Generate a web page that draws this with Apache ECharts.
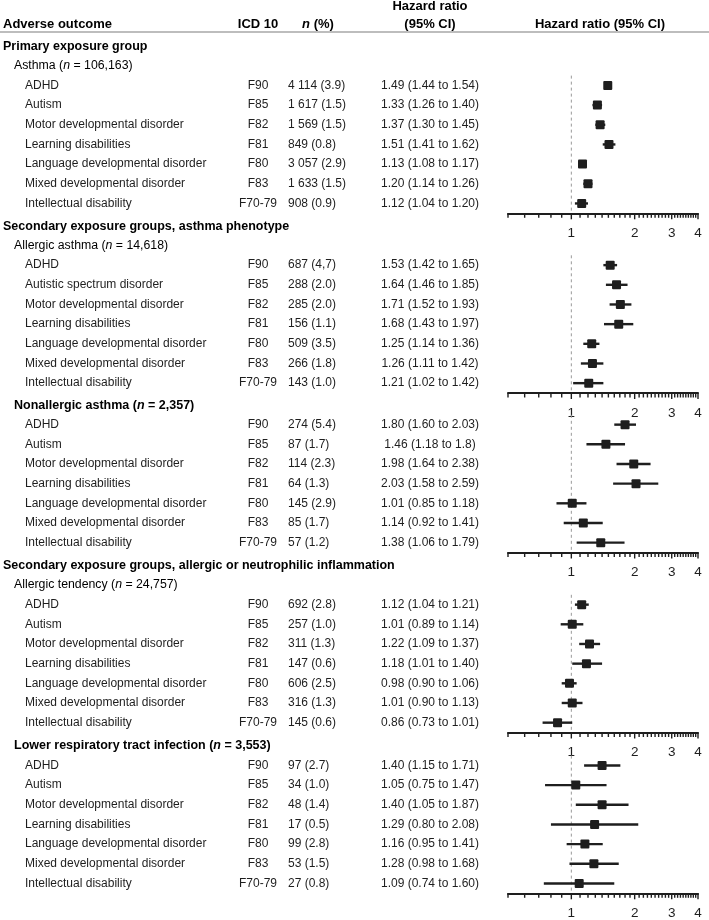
<!DOCTYPE html>
<html>
<head>
<meta charset="utf-8">
<script src="https://cdn.jsdelivr.net/npm/echarts@6/dist/echarts.min.js"></script>
<style>
  html, body { margin: 0; padding: 0; background: #fff; }
  #chart { width: 709px; height: 920px; }
</style>
</head>
<body>
<div id="chart"></div>
<script>
// ---- data ----
var icdCodes = ['F90', 'F85', 'F82', 'F81', 'F80', 'F83', 'F70-79'];

var names1 = ['ADHD', 'Autism', 'Motor developmental disorder', 'Learning disabilities',
  'Language developmental disorder', 'Mixed developmental disorder', 'Intellectual disability'];
var nPct1 = ['4 114 (3.9)', '1 617 (1.5)', '1 569 (1.5)', '849 (0.8)', '3 057 (2.9)', '1 633 (1.5)', '908 (0.9)'];
var hrText1 = ['1.49 (1.44 to 1.54)', '1.33 (1.26 to 1.40)', '1.37 (1.30 to 1.45)', '1.51 (1.41 to 1.62)',
  '1.13 (1.08 to 1.17)', '1.20 (1.14 to 1.26)', '1.12 (1.04 to 1.20)'];
var hr1 = [1.49, 1.33, 1.37, 1.51, 1.13, 1.20, 1.12];
var lo1 = [1.44, 1.26, 1.30, 1.41, 1.08, 1.14, 1.04];
var hi1 = [1.54, 1.40, 1.45, 1.62, 1.17, 1.26, 1.20];

var names2 = ['ADHD', 'Autistic spectrum disorder', 'Motor developmental disorder', 'Learning disabilities',
  'Language developmental disorder', 'Mixed developmental disorder', 'Intellectual disability'];
var nPct2 = ['687 (4,7)', '288 (2.0)', '285 (2.0)', '156 (1.1)', '509 (3.5)', '266 (1.8)', '143 (1.0)'];
var hrText2 = ['1.53 (1.42 to 1.65)', '1.64 (1.46 to 1.85)', '1.71 (1.52 to 1.93)', '1.68 (1.43 to 1.97)',
  '1.25 (1.14 to 1.36)', '1.26 (1.11 to 1.42)', '1.21 (1.02 to 1.42)'];
var hr2 = [1.53, 1.64, 1.71, 1.68, 1.25, 1.26, 1.21];
var lo2 = [1.42, 1.46, 1.52, 1.43, 1.14, 1.11, 1.02];
var hi2 = [1.65, 1.85, 1.93, 1.97, 1.36, 1.42, 1.42];

var names3 = ['ADHD', 'Autism', 'Motor developmental disorder', 'Learning disabilities',
  'Language developmental disorder', 'Mixed developmental disorder', 'Intellectual disability'];
var nPct3 = ['274 (5.4)', '87 (1.7)', '114 (2.3)', '64 (1.3)', '145 (2.9)', '85 (1.7)', '57 (1.2)'];
var hrText3 = ['1.80 (1.60 to 2.03)', '1.46 (1.18 to 1.8)', '1.98 (1.64 to 2.38)', '2.03 (1.58 to 2.59)',
  '1.01 (0.85 to 1.18)', '1.14 (0.92 to 1.41)', '1.38 (1.06 to 1.79)'];
var hr3 = [1.80, 1.46, 1.98, 2.03, 1.01, 1.14, 1.38];
var lo3 = [1.60, 1.18, 1.64, 1.58, 0.85, 0.92, 1.06];
var hi3 = [2.03, 1.80, 2.38, 2.59, 1.18, 1.41, 1.79];

var names4 = names3.slice();
var nPct4 = ['692 (2.8)', '257 (1.0)', '311 (1.3)', '147 (0.6)', '606 (2.5)', '316 (1.3)', '145 (0.6)'];
var hrText4 = ['1.12 (1.04 to 1.21)', '1.01 (0.89 to 1.14)', '1.22 (1.09 to 1.37)', '1.18 (1.01 to 1.40)',
  '0.98 (0.90 to 1.06)', '1.01 (0.90 to 1.13)', '0.86 (0.73 to 1.01)'];
var hr4 = [1.12, 1.01, 1.22, 1.18, 0.98, 1.01, 0.86];
var lo4 = [1.04, 0.89, 1.09, 1.01, 0.90, 0.90, 0.73];
var hi4 = [1.21, 1.14, 1.37, 1.40, 1.06, 1.13, 1.01];

var names5 = names3.slice();
var nPct5 = ['97 (2.7)', '34 (1.0)', '48 (1.4)', '17 (0.5)', '99 (2.8)', '53 (1.5)', '27 (0.8)'];
var hrText5 = ['1.40 (1.15 to 1.71)', '1.05 (0.75 to 1.47)', '1.40 (1.05 to 1.87)', '1.29 (0.80 to 2.08)',
  '1.16 (0.95 to 1.41)', '1.28 (0.98 to 1.68)', '1.09 (0.74 to 1.60)'];
var hr5 = [1.40, 1.05, 1.40, 1.29, 1.16, 1.28, 1.09];
var lo5 = [1.15, 0.75, 1.05, 0.80, 0.95, 0.98, 0.74];
var hi5 = [1.71, 1.47, 1.87, 2.08, 1.41, 1.68, 1.60];

var refValue = 1;
var tickValues = [0.5, 0.6, 0.7, 0.8, 0.9, 1.0, 1.1, 1.2, 1.3, 1.4, 1.5, 1.6, 1.7, 1.8, 1.9, 2.0,
  2.1, 2.2, 2.3, 2.4, 2.5, 2.6, 2.7, 2.8, 2.9, 3.0, 3.1, 3.2, 3.3, 3.4, 3.5, 3.6, 3.7, 3.8, 3.9, 4.0];
var tickLabels = [1, 2, 3, 4];

// ---- layout ----
var FONT = '"Liberation Sans", Arial, sans-serif';
var INK = '#1e1e1e';
var ROW_H = 19.67;
var GRID_LEFT = 508;
var panelTops = [75.6, 255.3, 414.8, 594.8, 755.6];
var panels = [
  { names: names1, n: nPct1, hrText: hrText1, hr: hr1, lo: lo1, hi: hi1 },
  { names: names2, n: nPct2, hrText: hrText2, hr: hr2, lo: lo2, hi: hi2 },
  { names: names3, n: nPct3, hrText: hrText3, hr: hr3, lo: lo3, hi: hi3 },
  { names: names4, n: nPct4, hrText: hrText4, hr: hr4, lo: lo4, hi: hi4 },
  { names: names5, n: nPct5, hrText: hrText5, hr: hr5, lo: lo5, hi: hi5 }
];

// text columns drawn as extra category axes
var columns = [
  { key: 'names', x: 25, align: 'left', size: 12 },
  { key: 'icd', x: 258, align: 'center', size: 12, dy: -2 },
  { key: 'n', x: 288, align: 'left', size: 12 },
  { key: 'hrText', x: 430, align: 'center', size: 12 }
];

function forestItem(params, api) {
  var row = api.value(3);
  var c = api.coord([api.value(0), row]);
  var l = api.coord([api.value(1), row]);
  var h = api.coord([api.value(2), row]);
  return {
    type: 'group',
    children: [
      { type: 'line', shape: { x1: l[0], y1: c[1], x2: h[0], y2: c[1] }, style: { stroke: INK, lineWidth: 2.4 } },
      { type: 'rect', shape: { x: c[0] - 4.5, y: c[1] - 4.5, width: 9, height: 9, r: 1 }, style: { fill: INK } }
    ]
  };
}

function refItem(params, api) {
  var x = api.coord([api.value(0), 0])[0];
  var cs = params.coordSys;
  return {
    type: 'line',
    shape: { x1: x, y1: cs.y, x2: x, y2: cs.y + cs.height },
    style: { stroke: '#9a9a9a', lineWidth: 1, lineDash: [3, 3] }
  };
}

function tickItem(params, api) {
  var v = api.value(0);
  var x = api.coord([v, 0])[0];
  var yb = params.coordSys.y + params.coordSys.height;
  var major = tickLabels.indexOf(v) >= 0;
  var children = [
    { type: 'line', shape: { x1: x, y1: yb, x2: x, y2: yb + (major ? 6 : 4.5) }, style: { stroke: INK, lineWidth: 1.4 } }
  ];
  if (major) {
    children.push({
      type: 'text',
      style: { text: String(v), x: x, y: yb + 20, align: 'center', verticalAlign: 'middle',
        font: '13.5px ' + FONT, fill: INK }
    });
  }
  return { type: 'group', children: children };
}

var grid = [], xAxis = [], yAxis = [], series = [];
panels.forEach(function (p, k) {
  grid.push({ left: GRID_LEFT, width: 190, top: panelTops[k], height: ROW_H * 7 });
  xAxis.push({
    gridIndex: k, type: 'log', logBase: 2, min: 0.5, max: 4,
    axisLine: { show: true, onZero: false, lineStyle: { color: INK, width: 2 } },
    axisTick: { show: false }, axisLabel: { show: false },
    splitLine: { show: false }, minorTick: { show: false }, minorSplitLine: { show: false }
  });
  var firstY = yAxis.length;
  columns.forEach(function (col) {
    var cats = col.key === 'icd' ? icdCodes : p[col.key];
    yAxis.push({
      gridIndex: k, type: 'category', inverse: true, position: 'left', data: cats,
      axisLine: { show: false }, axisTick: { show: false }, splitLine: { show: false },
      axisLabel: {
        align: col.align, margin: GRID_LEFT - col.x, interval: 0,
        fontSize: col.size, fontFamily: FONT, color: INK,
        padding: col.dy ? [0, 0, -2 * col.dy, 0] : 0
      }
    });
  });
  series.push({
    type: 'custom', xAxisIndex: k, yAxisIndex: firstY, silent: true,
    data: [[refValue, 0]],
    encode: { x: 0, y: 1 },
    renderItem: refItem
  });
  series.push({
    type: 'custom', xAxisIndex: k, yAxisIndex: firstY,
    data: p.hr.map(function (v, i) { return [v, p.lo[i], p.hi[i], i]; }),
    dimensions: ['hr', 'lo', 'hi', 'row'],
    encode: { x: 0, y: 3 },
    renderItem: forestItem
  });
  series.push({
    type: 'custom', xAxisIndex: k, yAxisIndex: firstY, silent: true, clip: false,
    data: tickValues.map(function (v) { return [v, 0]; }),
    encode: { x: 0, y: 1 },
    renderItem: tickItem
  });
});

// ---- table headings ----
function tok(size, bold, italic) {
  return { fontSize: size, fontFamily: FONT, color: INK,
    fontWeight: bold ? 'bold' : 'normal', fontStyle: italic ? 'italic' : 'normal' };
}
function txt(parts, x, y, size, align) {
  var rich = {}, s = '';
  parts.forEach(function (pt, i) {
    rich['t' + i] = tok(size, pt.b, pt.i);
    s += '{t' + i + '|' + pt.t + '}';
  });
  return {
    type: 'text', x: x, y: y, silent: true,
    style: { text: s, rich: rich, align: align || 'left', verticalAlign: 'middle' }
  };
}

var graphic = [
  txt([{ t: 'Adverse outcome', b: 1 }], 3, 24, 13),
  txt([{ t: 'ICD 10', b: 1 }], 258, 24, 13, 'center'),
  txt([{ t: 'n', b: 1, i: 1 }, { t: ' (%)', b: 1 }], 318, 24, 13, 'center'),
  txt([{ t: 'Hazard ratio', b: 1 }], 430, 6, 13, 'center'),
  txt([{ t: '(95% CI)', b: 1 }], 430, 24, 13, 'center'),
  txt([{ t: 'Hazard ratio (95% CI)', b: 1 }], 600, 24, 13, 'center'),
  { type: 'line', silent: true, shape: { x1: 0, y1: 32, x2: 709, y2: 32 }, style: { stroke: '#bdbdbd', lineWidth: 2 } },

  txt([{ t: 'Primary exposure group', b: 1 }], 3, panelTops[0] - 29, 12.5),
  txt([{ t: 'Asthma (' }, { t: 'n', i: 1 }, { t: ' = 106,163)' }], 14, panelTops[0] - 10, 12.3),
  txt([{ t: 'Secondary exposure groups, asthma phenotype', b: 1 }], 3, panelTops[1] - 29, 12.5),
  txt([{ t: 'Allergic asthma (' }, { t: 'n', i: 1 }, { t: ' = 14,618)' }], 14, panelTops[1] - 10, 12.3),
  txt([{ t: 'Nonallergic asthma (', b: 1 }, { t: 'n', b: 1, i: 1 }, { t: ' = 2,357)', b: 1 }], 14, panelTops[2] - 9, 12.5),
  txt([{ t: 'Secondary exposure groups, allergic or neutrophilic inflammation', b: 1 }], 3, panelTops[3] - 29, 12.5),
  txt([{ t: 'Allergic tendency (' }, { t: 'n', i: 1 }, { t: ' = 24,757)' }], 14, panelTops[3] - 10, 12.3),
  txt([{ t: 'Lower respiratory tract infection (', b: 1 }, { t: 'n', b: 1, i: 1 }, { t: ' = 3,553)', b: 1 }], 14, panelTops[4] - 10, 12.5)
];

var chart = echarts.init(document.getElementById('chart'), null, { renderer: 'canvas' });
chart.setOption({
  animation: false,
  backgroundColor: '#fff',
  grid: grid,
  xAxis: xAxis,
  yAxis: yAxis,
  series: series,
  graphic: graphic
});
</script>
</body>
</html>
